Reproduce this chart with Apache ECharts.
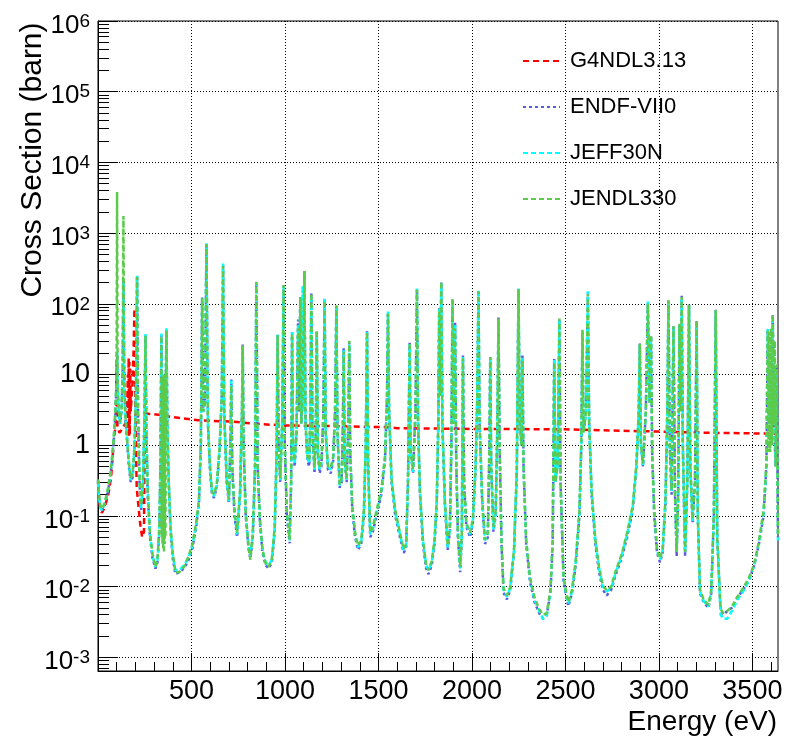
<!DOCTYPE html>
<html><head><meta charset="utf-8">
<script src="https://cdn.jsdelivr.net/npm/echarts@6/dist/echarts.min.js"></script>
<style>html,body{margin:0;padding:0;background:#fff}#c{width:791px;height:740px}</style>
</head><body><div id="c"></div>
<script>
var seriesNames = ['G4NDL3.13', 'ENDF-VII0', 'JEFF30N', 'JENDL330'];
var xMajorTicks = [500, 1000, 1500, 2000, 2500, 3000, 3500];
var xMinorTicks = [100,200,300,400,600,700,800,900,1100,1200,1300,1400,1600,1700,1800,1900,2100,2200,2300,2400,2600,2700,2800,2900,3100,3200,3300,3400,3600];
var yMajorTicks = [1e-3, 1e-2, 1e-1, 1, 10, 1e2, 1e3, 1e4, 1e5, 1e6];
var yMinorTicks = [7e-4,8e-4,9e-4,
 2e-3,3e-3,4e-3,5e-3,6e-3,7e-3,8e-3,9e-3,
 2e-2,3e-2,4e-2,5e-2,6e-2,7e-2,8e-2,9e-2,
 0.2,0.3,0.4,0.5,0.6,0.7,0.8,0.9,
 2,3,4,5,6,7,8,9,
 20,30,40,50,60,70,80,90,
 200,300,400,500,600,700,800,900,
 2e3,3e3,4e3,5e3,6e3,7e3,8e3,9e3,
 2e4,3e4,4e4,5e4,6e4,7e4,8e4,9e4,
 2e5,3e5,4e5,5e5,6e5,7e5,8e5,9e5];

var g4ndl = [[0,0.3],[8,0.15],[20,0.11],[35,0.13],[55,0.2],[70,0.35],[85,1.2],[95,2],[100,17],[104,1.8],[115,1.5],[125,1.6],[135,1.8],[145,2],[155,2.5],[160,10],[162,1.4],[164,17],[166,1.3],[168,15],[170,1.4],[172,12],[175,3],[185,8],[190,20],[195,85],[200,3],[207,0.25],[215,0.15],[225,0.08],[236,0.05],[246,0.06],[250,2.8],[300,2.75],[400,2.5],[535,2.25],[720,2.15],[850,2.0],[1000,1.9],[1260,1.86],[1545,1.8],[1600,1.74],[2000,1.7],[2500,1.68],[2800,1.6],[3000,1.56],[3250,1.5],[3580,1.46],[3637,1.45]];

var endf = [[0,0.32],[5,0.2],[12,0.13],[22,0.12],[35,0.14],[50,0.2],[65,0.35],[78,0.7],[88,1.6],[95,3.5],[99,8],[102,20],[105,7],[110,3],[118,2],[126,3],[132,12],[136,225],[140,10],[146,2.5],[155,1.2],[165,0.5],[175,0.3],[185,0.35],[195,0.8],[203,5],[209,247],[214,3],[222,0.3],[230,0.12],[240,0.25],[248,2],[254,36],[259,1.5],[266,0.2],[278,0.05],[292,0.025],[307,0.018],[318,0.022],[328,0.06],[334,0.5],[339,36],[344,1],[350,0.3],[356,1],[362,5],[366,43],[371,2],[378,0.3],[388,0.06],[400,0.025],[414,0.015],[435,0.016],[460,0.018],[485,0.024],[505,0.035],[525,0.07],[540,0.15],[550,1],[557,123],[563,3],[572,4],[580,690],[588,2],[600,0.4],[610,0.2],[620,0.18],[635,0.25],[650,0.8],[662,5],[669,345],[675,3],[688,0.3],[700,0.15],[708,1],[713,8.5],[718,0.5],[730,0.1],[744,0.05],[760,0.2],[770,3],[774,27],[779,1],[790,0.1],[805,0.035],[815,0.025],[828,0.05],[840,0.5],[847,200],[854,0.5],[866,0.08],[880,0.03],[897,0.02],[913,0.018],[930,0.022],[945,0.06],[955,0.7],[961,37],[966,1],[975,0.3],[985,2],[993,180],[999,1],[1010,0.1],[1025,0.041],[1033,0.3],[1038,39],[1043,1],[1052,0.5],[1062,1.5],[1070,60],[1075,3],[1082,123],[1087,2],[1094,4],[1104,290],[1110,2],[1120,0.6],[1130,0.5],[1136,3],[1141,144],[1147,1.5],[1158,0.4],[1165,1.5],[1170,40],[1176,0.8],[1185,0.4],[1195,0.5],[1205,2.5],[1212,116],[1218,1.5],[1230,0.45],[1245,0.4],[1258,0.6],[1268,3],[1275,91],[1281,1.5],[1292,0.25],[1303,0.3],[1310,2],[1314,24],[1319,0.6],[1330,0.3],[1339,2],[1344,28],[1349,0.8],[1360,0.12],[1375,0.05],[1390,0.033],[1408,0.04],[1422,0.1],[1432,1],[1439,42],[1445,0.5],[1456,0.05],[1470,0.06],[1490,0.1],[1515,0.2],[1535,0.6],[1546,5],[1551,75],[1557,3],[1570,0.3],[1590,0.1],[1615,0.05],[1635,0.03],[1648,0.035],[1658,0.3],[1667,28],[1672,0.8],[1685,0.4],[1698,3],[1706,161],[1712,2],[1722,0.2],[1738,0.04],[1755,0.018],[1768,0.015],[1785,0.02],[1800,0.04],[1812,0.15],[1820,2],[1825,89],[1830,5],[1836,200],[1842,2],[1855,0.15],[1870,0.033],[1882,0.06],[1890,1],[1896,116],[1902,2],[1910,55],[1916,0.6],[1925,0.05],[1937,0.016],[1946,0.05],[1952,18.5],[1958,0.3],[1970,0.07],[1990,0.05],[2005,0.08],[2020,0.5],[2028,4],[2035,153],[2041,2],[2055,0.15],[2070,0.04],[2085,0.05],[2093,0.8],[2098,17.5],[2103,0.5],[2115,0.06],[2127,0.1],[2136,2],[2142,64],[2148,1],[2158,0.04],[2169,0.0082],[2187,0.0066],[2205,0.009],[2225,0.03],[2240,0.4],[2249,161],[2256,2],[2265,1],[2270,18.5],[2276,0.5],[2290,0.04],[2310,0.012],[2335,0.006],[2360,0.0042],[2380,0.0035],[2400,0.004],[2420,0.008],[2432,0.04],[2440,16.6],[2446,0.3],[2458,0.5],[2468,61],[2474,0.3],[2490,0.012],[2505,0.007],[2516,0.0053],[2535,0.008],[2555,0.02],[2575,0.1],[2585,1],[2591,42],[2597,1.5],[2610,3],[2620,144],[2627,2],[2640,0.2],[2660,0.04],[2680,0.016],[2700,0.009],[2721,0.0075],[2745,0.009],[2770,0.015],[2800,0.025],[2830,0.05],[2860,0.12],[2880,0.5],[2892,3],[2898,28],[2904,1],[2915,0.5],[2930,3],[2941,104],[2950,4],[2958,35],[2964,0.8],[2975,0.1],[2990,0.03],[3006,0.022],[3020,0.03],[3035,0.15],[3045,3],[3051,110],[3058,1],[3068,0.2],[3078,49],[3086,0.2],[3095,0.027],[3103,0.2],[3110,50],[3116,3],[3122,130],[3128,1],[3140,0.027],[3152,0.3],[3161,98],[3168,0.5],[3180,0.08],[3193,0.3],[3202,57],[3208,0.1],[3220,0.008],[3240,0.006],[3265,0.005],[3280,0.008],[3294,0.1],[3304,83],[3312,0.05],[3330,0.0045],[3345,0.004],[3365,0.0045],[3390,0.005],[3420,0.007],[3450,0.009],[3480,0.012],[3510,0.02],[3535,0.04],[3560,0.1],[3575,0.5],[3582,42],[3590,2],[3602,5],[3609,71],[3615,2],[3625,0.5],[3630,13],[3634,0.5],[3637,0.05]];

var jeff = [[0,0.3],[5,0.19],[12,0.13],[22,0.12],[35,0.15],[50,0.21],[65,0.36],[78,0.75],[88,1.7],[95,3.8],[99,9],[102,22],[105,7],[110,3.2],[118,2],[126,3.2],[132,12],[136,230],[140,10],[146,2.6],[155,1.3],[165,0.55],[175,0.32],[185,0.38],[195,0.9],[203,5],[209,250],[214,3],[222,0.32],[230,0.13],[240,0.27],[248,2],[254,38],[259,1.5],[266,0.22],[278,0.055],[292,0.027],[307,0.019],[318,0.023],[328,0.065],[334,0.5],[339,38],[344,1],[350,0.35],[356,1.1],[362,5],[366,45],[371,2],[378,0.32],[388,0.065],[400,0.028],[414,0.017],[435,0.017],[460,0.02],[485,0.026],[505,0.038],[525,0.075],[540,0.16],[550,1],[557,118],[563,3],[572,4],[580,720],[588,2],[600,0.42],[610,0.21],[620,0.19],[635,0.26],[650,0.85],[662,5],[669,370],[675,3],[688,0.32],[700,0.16],[708,1.1],[713,8.2],[718,0.5],[730,0.11],[744,0.055],[760,0.22],[770,3],[774,25],[779,1],[790,0.11],[805,0.037],[815,0.027],[828,0.055],[840,0.5],[847,195],[854,0.5],[866,0.085],[880,0.032],[897,0.022],[913,0.02],[930,0.024],[945,0.065],[955,0.7],[961,38],[966,1],[975,0.32],[985,2],[993,175],[999,1],[1010,0.11],[1025,0.045],[1033,0.3],[1038,40],[1043,1],[1052,0.55],[1062,1.5],[1070,50],[1075,3],[1082,120],[1087,2],[1094,180],[1099,3],[1104,210],[1110,2],[1120,0.65],[1130,0.55],[1136,3],[1141,130],[1147,1.5],[1158,0.45],[1165,1.5],[1170,38],[1176,0.8],[1185,0.45],[1195,0.55],[1205,2.5],[1212,118],[1218,1.5],[1230,0.5],[1245,0.45],[1258,0.65],[1268,3],[1275,93],[1281,1.5],[1292,0.27],[1303,0.32],[1310,2],[1314,22],[1319,0.6],[1330,0.32],[1339,2],[1344,27],[1349,0.8],[1360,0.13],[1375,0.055],[1390,0.036],[1408,0.043],[1422,0.11],[1432,1],[1439,40],[1445,0.5],[1456,0.055],[1470,0.065],[1490,0.11],[1515,0.22],[1535,0.65],[1546,5],[1551,78],[1557,3],[1570,0.32],[1590,0.11],[1615,0.055],[1635,0.033],[1648,0.038],[1658,0.3],[1667,27],[1672,0.8],[1685,0.42],[1698,3],[1706,165],[1712,2],[1722,0.22],[1738,0.045],[1755,0.02],[1768,0.017],[1785,0.022],[1800,0.045],[1812,0.16],[1820,2],[1825,85],[1830,5],[1836,195],[1842,2],[1855,0.16],[1870,0.036],[1882,0.065],[1890,1],[1896,110],[1902,2],[1910,50],[1916,0.6],[1925,0.055],[1937,0.018],[1946,0.055],[1952,18],[1958,0.3],[1970,0.075],[1990,0.055],[2005,0.085],[2020,0.5],[2028,4],[2035,158],[2041,2],[2055,0.16],[2070,0.045],[2085,0.055],[2093,0.8],[2098,17],[2103,0.5],[2115,0.065],[2127,0.11],[2136,2],[2142,60],[2148,1],[2158,0.045],[2169,0.009],[2187,0.0072],[2205,0.0095],[2225,0.032],[2240,0.42],[2249,165],[2256,2],[2265,1],[2270,17],[2276,0.5],[2290,0.045],[2310,0.013],[2335,0.0065],[2360,0.0045],[2380,0.0035],[2400,0.0038],[2420,0.0085],[2432,0.045],[2440,16],[2446,0.3],[2458,0.5],[2468,58],[2474,0.3],[2490,0.013],[2505,0.0075],[2516,0.0058],[2535,0.0085],[2555,0.022],[2575,0.11],[2585,1],[2591,40],[2597,1.5],[2610,3],[2620,150],[2627,2],[2640,0.22],[2660,0.045],[2680,0.018],[2700,0.01],[2721,0.0085],[2745,0.0095],[2770,0.016],[2800,0.027],[2830,0.055],[2860,0.13],[2880,0.5],[2892,3],[2898,26],[2904,1],[2915,0.5],[2930,3],[2941,108],[2950,4],[2958,33],[2964,0.8],[2975,0.11],[2990,0.032],[3006,0.024],[3020,0.032],[3035,0.16],[3045,3],[3051,105],[3058,1],[3068,0.22],[3078,47],[3086,0.22],[3095,0.03],[3103,0.2],[3110,48],[3116,3],[3122,120],[3128,1],[3140,0.03],[3152,0.3],[3161,95],[3168,0.5],[3180,0.085],[3193,0.3],[3202,54],[3208,0.1],[3220,0.0085],[3240,0.0062],[3265,0.0052],[3280,0.0085],[3294,0.1],[3304,80],[3312,0.05],[3330,0.004],[3345,0.0035],[3365,0.0035],[3390,0.0045],[3420,0.0065],[3450,0.0085],[3480,0.012],[3510,0.02],[3535,0.042],[3560,0.11],[3575,0.5],[3582,44],[3590,2],[3602,5],[3609,68],[3615,2],[3625,0.5],[3630,12],[3634,0.5],[3637,0.045]];

var jendl = [[0,0.33],[5,0.22],[12,0.14],[22,0.125],[35,0.15],[50,0.22],[65,0.38],[78,0.8],[88,1.8],[95,4],[99,10],[102,3800],[105,8],[110,3.3],[118,2.1],[126,3.3],[132,13],[136,1740],[140,11],[146,2.7],[155,1.3],[165,0.6],[175,0.34],[185,0.4],[195,0.95],[203,5],[209,240],[214,3],[222,0.34],[230,0.14],[240,0.28],[248,2],[254,35],[259,1.5],[266,0.23],[278,0.058],[292,0.028],[307,0.019],[318,0.024],[328,0.07],[334,0.6],[339,35],[341,0.05],[343,9],[345,0.04],[347,10],[349,0.035],[351,9],[353,0.03],[355,10],[357,0.04],[359,10],[361,0.05],[363,9],[366,42],[371,2],[378,0.34],[388,0.07],[400,0.03],[414,0.016],[435,0.016],[460,0.019],[485,0.027],[505,0.04],[525,0.08],[540,0.17],[550,1.1],[557,120],[563,3],[572,4],[580,700],[588,2],[600,0.45],[610,0.22],[620,0.2],[635,0.28],[650,0.9],[662,5],[669,340],[675,3],[688,0.34],[700,0.17],[708,1.1],[713,7],[718,0.5],[730,0.12],[744,0.058],[760,0.23],[770,3],[774,26],[779,1],[790,0.11],[805,0.036],[815,0.024],[828,0.058],[840,0.55],[847,205],[854,0.5],[866,0.09],[880,0.033],[897,0.021],[913,0.019],[930,0.025],[945,0.07],[955,0.75],[961,36],[966,1],[975,0.34],[985,2],[993,185],[999,1],[1010,0.12],[1025,0.046],[1033,0.3],[1038,38],[1043,1],[1052,0.6],[1062,1.6],[1070,45],[1075,3],[1082,125],[1087,2],[1094,5],[1104,290],[1110,2],[1120,0.7],[1130,0.6],[1136,3],[1141,140],[1147,1.5],[1158,0.48],[1165,1.6],[1170,42],[1176,0.8],[1185,0.48],[1195,0.6],[1205,2.5],[1212,110],[1218,1.5],[1230,0.5],[1245,0.48],[1258,0.7],[1268,3],[1275,95],[1281,1.5],[1292,0.28],[1303,0.34],[1310,2],[1314,21],[1319,0.6],[1330,0.34],[1339,2],[1344,30],[1349,0.8],[1360,0.14],[1375,0.058],[1390,0.038],[1408,0.045],[1422,0.12],[1432,1],[1439,40],[1445,0.5],[1456,0.058],[1470,0.07],[1490,0.12],[1515,0.23],[1535,0.7],[1546,5],[1551,72],[1557,3],[1570,0.34],[1590,0.12],[1615,0.058],[1635,0.034],[1648,0.04],[1658,0.3],[1667,28],[1672,0.8],[1685,0.45],[1698,3],[1706,158],[1712,2],[1722,0.23],[1738,0.046],[1755,0.021],[1768,0.017],[1785,0.023],[1800,0.046],[1812,0.17],[1820,2],[1825,80],[1830,5],[1836,205],[1842,2],[1855,0.17],[1870,0.038],[1882,0.07],[1890,1],[1896,118],[1902,2],[1910,45],[1916,0.6],[1925,0.058],[1937,0.019],[1946,0.058],[1952,17],[1958,0.3],[1970,0.08],[1990,0.058],[2005,0.09],[2020,0.55],[2028,4],[2035,150],[2041,2],[2055,0.17],[2070,0.046],[2085,0.058],[2093,0.8],[2098,17.5],[2103,0.5],[2115,0.07],[2127,0.12],[2136,2],[2142,62],[2148,1],[2158,0.046],[2169,0.0095],[2187,0.0075],[2205,0.01],[2225,0.034],[2240,0.45],[2249,160],[2256,2],[2265,1],[2270,16],[2276,0.5],[2290,0.046],[2310,0.014],[2335,0.007],[2360,0.0048],[2380,0.004],[2400,0.0042],[2420,0.009],[2432,0.046],[2440,15],[2446,0.3],[2458,0.5],[2468,62],[2474,0.3],[2490,0.014],[2505,0.008],[2516,0.006],[2535,0.009],[2555,0.023],[2575,0.12],[2585,1.1],[2591,43],[2597,1.5],[2610,3],[2620,138],[2627,2],[2640,0.23],[2660,0.046],[2680,0.019],[2700,0.0105],[2721,0.0088],[2745,0.01],[2770,0.017],[2800,0.028],[2830,0.058],[2860,0.14],[2880,0.55],[2892,3],[2898,27],[2904,1],[2915,0.55],[2930,3],[2941,100],[2950,4],[2958,36],[2964,0.8],[2975,0.12],[2990,0.034],[3006,0.025],[3020,0.034],[3035,0.17],[3045,3],[3051,112],[3058,1],[3068,0.23],[3078,48],[3086,0.23],[3095,0.031],[3103,0.2],[3110,52],[3116,3],[3122,125],[3128,1],[3140,0.031],[3152,0.3],[3161,96],[3168,0.5],[3180,0.09],[3193,0.3],[3202,58],[3208,0.1],[3220,0.009],[3240,0.0065],[3265,0.0055],[3280,0.009],[3294,0.11],[3304,82],[3312,0.05],[3330,0.0048],[3345,0.0042],[3365,0.0045],[3390,0.0052],[3420,0.0072],[3450,0.0095],[3480,0.013],[3510,0.021],[3535,0.044],[3560,0.12],[3575,0.55],[3582,42],[3586,0.8],[3590,40],[3595,0.8],[3600,45],[3605,1],[3609,70],[3615,2],[3620,30],[3625,0.5],[3630,14],[3634,0.6],[3637,0.05]];

var FONT = '"Liberation Sans", Arial, Helvetica, sans-serif';
var X_MIN = 0, X_MAX = 3637, Y_MIN = 6.4e-4, Y_MAX = 1e6;

function yLabel(v) {
  var e = Math.round(Math.log10(v));
  if (e === 0) return '{n|1}';
  if (e === 1) return '{n|10}';
  return '{b|10}{s|' + e + '}';
}

var chart = echarts.init(document.getElementById('c'), null, {renderer: 'canvas'});
var dotted = {color: '#000', width: 1, type: [1, 2]};
var option = {
  animation: false,
  backgroundColor: '#fff',
  grid: {left: 98, right: 13, top: 21, bottom: 69, show: true, borderColor: '#000', borderWidth: 1, backgroundColor: 'transparent'},
  legend: {
    orient: 'vertical', left: 522, top: 50, padding: 0, itemWidth: 37, itemHeight: 14, itemGap: 24,
    itemStyle: {opacity: 0},
    textStyle: {fontSize: 22, fontFamily: FONT, color: '#000', lineHeight: 22, padding: [0, 0, 0, 5]},
    data: seriesNames
  },
  xAxis: [{
    type: 'value', min: X_MIN, max: X_MAX, position: 'bottom',
    axisLine: {show: true, onZero: false, lineStyle: {color: '#000', width: 1}},
    axisTick: {show: true, inside: true, length: 18, customValues: xMajorTicks, lineStyle: {color: '#000'}},
    axisLabel: {customValues: xMajorTicks, formatter: function (v) { return String(v); }, fontSize: 27, fontFamily: FONT, color: '#000', margin: 7},
    splitLine: {show: true, lineStyle: dotted},
    minorTick: {show: false}
  }, {
    type: 'value', min: X_MIN, max: X_MAX, position: 'bottom',
    axisLine: {show: false},
    axisTick: {show: true, inside: true, length: 9, customValues: xMinorTicks, lineStyle: {color: '#000'}},
    axisLabel: {show: false},
    splitLine: {show: false}
  }],
  yAxis: [{
    type: 'log', logBase: 10, min: Y_MIN, max: Y_MAX, position: 'left',
    axisLine: {show: true, onZero: false, lineStyle: {color: '#000', width: 1}},
    axisTick: {show: true, inside: true, length: 20, customValues: yMajorTicks, lineStyle: {color: '#000'}},
    axisLabel: {
      customValues: yMajorTicks, formatter: yLabel, margin: 8, color: '#000', fontFamily: FONT, align: 'right',
      rich: {
        n: {fontSize: 27, fontFamily: FONT, color: '#000', lineHeight: 27},
        b: {fontSize: 26, fontFamily: FONT, color: '#000', lineHeight: 26, padding: [9, 0, 0, 0]},
        s: {fontSize: 19, fontFamily: FONT, color: '#000', lineHeight: 19, padding: [4, 0, 0, 0], verticalAlign: 'top'}
      }
    },
    splitLine: {show: true, lineStyle: dotted}
  }, {
    type: 'log', logBase: 10, min: Y_MIN, max: Y_MAX, position: 'left',
    axisLine: {show: false},
    axisTick: {show: true, inside: true, length: 11, customValues: yMinorTicks, lineStyle: {color: '#000'}},
    axisLabel: {show: false},
    splitLine: {show: false}
  }],
  graphic: [{
    type: 'text', x: 33, y: 160, rotation: Math.PI / 2,
    style: {text: 'Cross Section (barn)', font: '30px ' + FONT, fill: '#000', textAlign: 'center', textVerticalAlign: 'middle'}
  }, {
    type: 'text', x: 777, y: 722,
    style: {text: 'Energy (eV)', font: '28px ' + FONT, fill: '#000', textAlign: 'right', textVerticalAlign: 'middle'}
  }],
  series: [
    {name: seriesNames[0], type: 'line', data: g4ndl, symbol: 'none', showSymbol: false, silent: true,
     lineStyle: {color: '#ff0000', width: 2.5, type: [6, 4]}, itemStyle: {color: '#ff0000'}},
    {name: seriesNames[1], type: 'line', data: endf, symbol: 'none', showSymbol: false, silent: true,
     lineStyle: {color: '#5c5cdc', width: 2.5, type: [3, 3]}, itemStyle: {color: '#5c5cdc'}},
    {name: seriesNames[2], type: 'line', data: jeff, symbol: 'none', showSymbol: false, silent: true,
     lineStyle: {color: '#00ffff', width: 2.5, type: [5, 3]}, itemStyle: {color: '#00ffff'}},
    {name: seriesNames[3], type: 'line', data: jendl, symbol: 'none', showSymbol: false, silent: true,
     lineStyle: {color: '#5ccb4c', width: 2.5, type: [5, 3]}, itemStyle: {color: '#5ccb4c'}}
  ]
};
chart.setOption(option);
</script>
</body></html>
